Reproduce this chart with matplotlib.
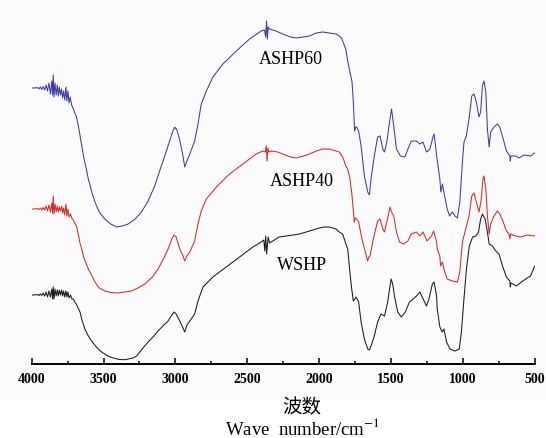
import matplotlib
matplotlib.use("Agg")
import matplotlib.pyplot as plt
from matplotlib.ticker import MultipleLocator
from matplotlib.patches import Rectangle

# wavenumber (cm-1) and transmittance (a.u.)
wn_60 = [4000, 3980, 3960, 3950, 3940, 3930, 3920, 3910, 3900, 3890, 3880, 3870, 3860, 3855, 3850, 3845,
         3838, 3830, 3822, 3815, 3808, 3800, 3792, 3785, 3778, 3770, 3762, 3755, 3748, 3740, 3732, 3722,
         3710, 3700, 3690, 3680, 3670, 3660, 3650, 3640, 3620, 3606, 3580, 3560, 3530, 3491, 3450, 3410,
         3370, 3329, 3280, 3236, 3190, 3144, 3110, 3074, 3040, 3020, 3005, 2990, 2970, 2950, 2935, 2920,
         2900, 2866, 2843, 2820, 2785, 2739, 2670, 2576, 2484, 2403, 2380, 2372, 2366, 2360, 2355, 2345,
         2300, 2253, 2200, 2160, 2110, 2067, 2020, 1975, 1930, 1882, 1850, 1836, 1815, 1801, 1790, 1771,
         1762, 1753, 1745, 1739, 1730, 1725, 1708, 1685, 1662, 1650, 1639, 1616, 1593, 1576, 1557, 1545,
         1529, 1510, 1496, 1481, 1462, 1434, 1404, 1382, 1359, 1323, 1300, 1277, 1253, 1229, 1206, 1200,
         1182, 1160, 1153, 1142, 1132, 1109, 1092, 1073, 1055, 1038, 1021, 1003, 992, 976, 957, 938,
         922, 906, 888, 876, 864, 853, 840, 829, 817, 806, 783, 760, 743, 719, 697, 673,
         670, 666, 633, 610, 575, 529, 500]
t_60 = [276, 276, 276.5, 275, 277, 274.5, 277.5, 274, 279, 273, 281, 270, 283, 269, 289, 267,
        281, 269, 279, 268, 277, 269, 275, 266, 273, 264, 277, 263, 273, 261, 267, 259,
        255, 251, 248, 241, 234, 225, 217, 208, 195, 185, 171, 162, 152, 145, 140, 137,
        138, 140, 145, 152, 163, 178, 193, 208, 223, 232, 237, 234, 224, 210, 197, 203,
        210, 223, 240, 260, 273, 287, 300, 313, 325, 333, 334, 327, 343, 325, 337, 335,
        333, 330, 327, 326, 327, 328, 331, 332, 331, 330, 327, 323, 315, 303, 295, 282,
        262, 233, 237, 237, 234, 233, 218, 188, 172, 169, 185, 208, 227, 228, 215, 212,
        222, 242, 255, 238, 215, 208, 207, 215, 223, 223, 220, 222, 212, 215, 228, 230,
        208, 185, 172, 180, 172, 155, 148, 152, 148, 146, 162, 202, 222, 228, 245, 268,
        270, 262, 247, 252, 278, 283, 272, 235, 217, 232, 237, 240, 237, 225, 213, 208,
        203, 208, 208, 206, 209, 208, 211]

wn_40 = [4000, 3980, 3960, 3950, 3940, 3930, 3920, 3910, 3900, 3890, 3880, 3870, 3860, 3855, 3850, 3845,
         3838, 3830, 3822, 3815, 3808, 3800, 3792, 3785, 3778, 3770, 3762, 3755, 3748, 3740, 3730, 3722,
         3710, 3700, 3687, 3675, 3664, 3650, 3641, 3620, 3606, 3580, 3560, 3530, 3491, 3450, 3399, 3350,
         3306, 3260, 3213, 3160, 3121, 3080, 3051, 3025, 3010, 2995, 2970, 2950, 2935, 2920, 2900, 2866,
         2843, 2820, 2785, 2715, 2623, 2530, 2438, 2392, 2375, 2368, 2362, 2356, 2350, 2333, 2290, 2253,
         2200, 2160, 2110, 2067, 2020, 1975, 1930, 1882, 1860, 1836, 1814, 1801, 1785, 1771, 1755, 1748,
         1739, 1725, 1702, 1679, 1662, 1655, 1646, 1623, 1593, 1576, 1557, 1545, 1529, 1506, 1496, 1481,
         1462, 1440, 1412, 1382, 1359, 1323, 1300, 1277, 1249, 1219, 1203, 1183, 1178, 1160, 1155, 1142,
         1132, 1109, 1073, 1038, 1021, 1003, 980, 957, 938, 922, 906, 888, 874, 860, 853, 840,
         829, 817, 806, 783, 760, 743, 719, 697, 679, 672, 668, 633, 598, 552, 500]
t_40 = [155, 155, 155.5, 154.5, 156, 154, 156.5, 154, 158, 153, 159, 152, 161, 151, 168, 150,
        160, 152, 158, 152, 157, 153, 158, 151, 156, 149, 160, 148, 155, 147, 150, 146,
        144, 141, 137, 129, 121, 114, 108, 100, 95, 88, 82, 76, 73, 71.5, 71, 72,
        73, 76, 80, 87, 95, 106, 115, 125, 129, 127, 115, 109, 103, 108, 112, 123,
        140, 153, 165, 177, 190, 200, 210, 213, 212, 218, 203, 216, 212, 213, 212, 210,
        207, 206, 208, 210, 213, 215, 215, 213, 212, 207, 198, 195, 185, 168, 142, 146,
        145, 142, 125, 112, 103, 107, 108, 125, 143, 145, 135, 132, 142, 157, 152, 148,
        132, 122, 120, 123, 130, 132, 128, 132, 123, 128, 133, 122, 115, 108, 98, 102,
        95, 85, 83, 82, 92, 122, 135, 148, 168, 171, 162, 152, 162, 185, 188, 175,
        148, 130, 140, 148, 153, 150, 142, 133, 130, 125, 130, 128, 127, 129, 128]

wn_w = [4000, 3980, 3960, 3950, 3940, 3930, 3920, 3910, 3900, 3890, 3880, 3870, 3860, 3855, 3850, 3845,
        3838, 3830, 3822, 3815, 3808, 3800, 3792, 3785, 3778, 3770, 3762, 3755, 3748, 3740, 3730, 3720,
        3710, 3700, 3690, 3680, 3664, 3650, 3630, 3610, 3583, 3550, 3514, 3470, 3433, 3390, 3352, 3294,
        3270, 3248, 3220, 3190, 3150, 3121, 3080, 3051, 3025, 3010, 2995, 2970, 2950, 2935, 2920, 2900,
        2866, 2843, 2808, 2739, 2646, 2553, 2461, 2403, 2385, 2378, 2372, 2365, 2355, 2345, 2322, 2280,
        2229, 2180, 2137, 2090, 2044, 2000, 1963, 1930, 1882, 1860, 1836, 1814, 1801, 1790, 1776, 1762,
        1752, 1744, 1735, 1725, 1708, 1685, 1662, 1650, 1639, 1616, 1593, 1570, 1545, 1523, 1510, 1499,
        1488, 1476, 1453, 1429, 1400, 1372, 1345, 1323, 1299, 1276, 1253, 1236, 1212, 1200, 1183, 1178,
        1160, 1144, 1132, 1113, 1090, 1055, 1025, 1010, 994, 975, 955, 932, 910, 891, 876, 864,
        845, 829, 817, 794, 771, 748, 724, 697, 673, 670, 666, 626, 593, 552, 529, 500]
t_w = [69, 69, 69.5, 68.5, 70, 68.5, 71, 68, 72, 67, 73, 67, 75, 65, 77, 65,
       75, 68, 74, 68, 74, 69, 74, 68, 73, 67, 73, 67, 72, 66, 69, 65,
       65, 62, 60, 57, 52, 44, 35, 29, 23, 17, 12, 8, 6, 4.5, 4.3, 6,
       8, 12, 17, 22, 28, 33, 39, 43, 49, 52, 50, 43, 37, 32, 39, 43,
       50, 63, 77, 87, 97, 107, 117, 122, 124, 113, 128, 110, 127, 121, 123, 127,
       128, 129, 130, 132, 134, 136, 137, 137, 135, 132, 130, 120, 115, 98, 78, 63,
       65, 67, 65, 62, 42, 25, 15, 14, 18, 28, 42, 50, 48, 62, 75, 85,
       80, 68, 52, 47, 52, 62, 65, 68, 72, 65, 58, 65, 80, 82, 68, 55,
       37, 32, 35, 22, 15, 13, 15, 32, 62, 95, 118, 127, 128, 132, 145, 150,
       145, 132, 120, 118, 113, 110, 98, 87, 83, 77, 81, 78, 82, 86, 88, 98]

names = ["ASHP60", "ASHP40", "WSHP"]
label_pos = [(2200, 305), (2120, 183), (2120, 100)]

plt.rcParams["mathtext.fontset"] = "stix"

fig = plt.figure(figsize=(5.46, 4.39), dpi=100)
fig.patch.set_facecolor("white")
fig.patches.append(Rectangle((0, 39 / 439), 1, 400 / 439, transform=fig.transFigure,
                             facecolor="#fbfbfb", edgecolor="none", zorder=-10))

ax = fig.add_axes([31.7 / 546, 74 / 439, 503 / 546, 355 / 439])
ax.patch.set_alpha(0)

ax.plot(wn_60, t_60, color="#3b3ba8", lw=0.75)
ax.plot(wn_40, t_40, color="#d42a2a", lw=0.75)
ax.plot(wn_w, t_w, color="#1a1a1a", lw=0.75)

for name, (x, y) in zip(names, label_pos):
    ax.text(x, y, name, fontsize=13, family="Liberation Serif", ha="center", va="center")

ax.set_xlim(4000, 500)
ax.set_ylim(0, 355)
for s in ["top", "left", "right"]:
    ax.spines[s].set_visible(False)
ax.spines["bottom"].set_linewidth(1.4)
ax.set_yticks([])
ax.xaxis.set_major_locator(MultipleLocator(500))
ax.xaxis.set_minor_locator(MultipleLocator(250))
ax.tick_params(axis="x", which="major", direction="in", length=4, width=1.1, pad=6)
ax.tick_params(axis="x", which="minor", direction="in", length=2.5, width=1.1)
for lab in ax.get_xticklabels():
    lab.set_fontfamily("Liberation Serif")
    lab.set_fontweight("bold")
    lab.set_fontsize(10)

fig.text(302 / 546, 1 - 408 / 439, "波数", fontsize=14, family=["Noto Sans CJK SC", "DejaVu Sans"],
         ha="center", va="center")
fig.text(302 / 546, 1 - 429 / 439, "Wave  number/cm$^{-1}$", fontsize=13.5, family="Liberation Serif",
         ha="center", va="center")

fig.savefig("out.png", dpi=100)
